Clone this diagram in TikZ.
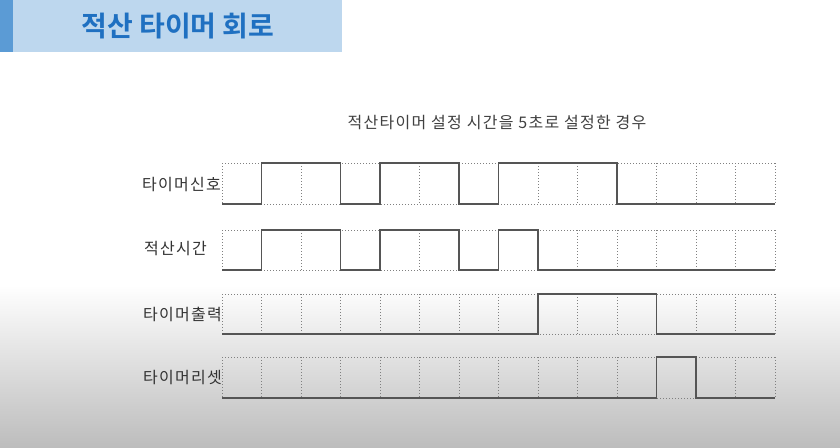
\documentclass[tikz,border=0pt]{standalone}
\usepackage{fontspec}
\setmainfont{Noto Sans CJK KR}
\newfontfamily\titlefont{Noto Sans CJK KR Bold}
\newfontfamily\figfont[LetterSpace=8]{Noto Sans CJK KR}
\usepackage{tikz}

\definecolor{barblue}{HTML}{5B9BD5}
\definecolor{boxblue}{HTML}{BDD7EE}
\definecolor{titleblue}{HTML}{1F70C1}
\definecolor{wave}{HTML}{555555}

\begin{document}
\begin{tikzpicture}
  [x=1pt,y=-1pt,
   grid/.style={gray,dotted,line width=1pt},
   signal/.style={wave,line width=1.3pt,line join=miter},
   label/.style={anchor=east,inner sep=0pt,font=\figfont\fontsize{16}{16}\selectfont,text=black!80}]
  \useasboundingbox (0,0) rectangle (840,447);
  % background
  \fill[white] (0,0) rectangle (840,447);
  \shade[top color=white,bottom color=black!26] (0,285) rectangle (840,447);

  % title bar
  \fill[boxblue] (13,0) rectangle (342,52);
  \fill[barblue] (0,0) rectangle (13,52);
  \node (title) at (178,26) {\titlefont\fontsize{28}{28}\selectfont\color{titleblue}적산 타이머 회로};

  \node (caption) at (497,123) {\figfont\fontsize{16}{16}\selectfont\color{black!75}적산타이머 설정 시간을 5초로 설정한 경우};

  % labels
  \node[label] (sig) at (221,185) {타이머신호};
  \node[label] (acc) at (207,249) {적산시간};
  \node[label] (out) at (222,314) {타이머출력};
  \node[label] (rst) at (222,378) {타이머리셋};

  \begin{scope}[xshift=222pt,x=39.5pt]
    % dotted grid
    \foreach \t/\b in {163/204,230/270,294/334,357/398}{
      \draw[grid] (0,\t) -- (14,\t);
      \draw[grid] (0,\b) -- (14,\b);
      \foreach \i in {0,...,14}
        \draw[grid] (\i,\t) -- (\i,\b);
    }
    % timer signal
    \draw[signal] (0,204) -- (1,204) -- (1,163) -- (3,163) -- (3,204) -- (4,204)
      -- (4,163) -- (6,163) -- (6,204) -- (7,204) -- (7,163) -- (10,163)
      -- (10,204) -- (14,204);
    % accumulated time
    \draw[signal] (0,270) -- (1,270) -- (1,230) -- (3,230) -- (3,270) -- (4,270)
      -- (4,230) -- (6,230) -- (6,270) -- (7,270) -- (7,230) -- (8,230)
      -- (8,270) -- (14,270);
    % timer output
    \draw[signal] (0,334) -- (8,334) -- (8,294) -- (11,294) -- (11,334) -- (14,334);
    % timer reset
    \draw[signal] (0,398) -- (11,398) -- (11,357) -- (12,357) -- (12,398) -- (14,398);
  \end{scope}
\end{tikzpicture}
\end{document}
